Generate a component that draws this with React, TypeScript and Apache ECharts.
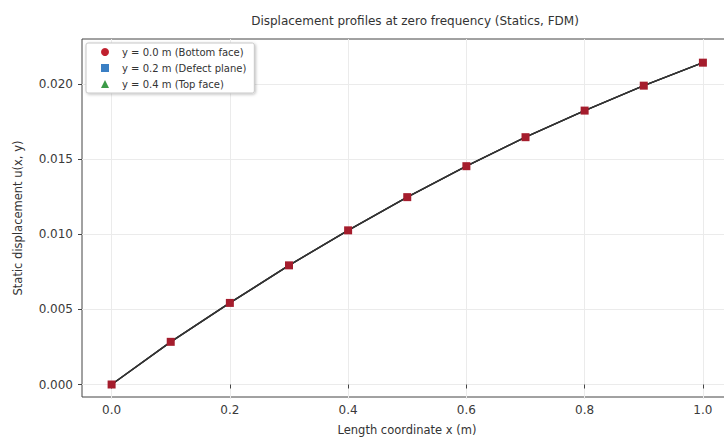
import React, { useEffect, useRef } from "react";
import * as echarts from "echarts";

const xPositions = [0, 0.1, 0.2, 0.3, 0.4, 0.5, 0.6, 0.7, 0.8, 0.9, 1.0];
const uBottom = [0, 0.00284, 0.00543, 0.00793, 0.01026, 0.01247, 0.01453, 0.01646, 0.01823, 0.01989, 0.02142];
const uDefect = [0, 0.00284, 0.00543, 0.00793, 0.01026, 0.01247, 0.01453, 0.01646, 0.01823, 0.01989, 0.02142];
const uTop = [0, 0.00284, 0.00543, 0.00793, 0.01026, 0.01247, 0.01453, 0.01646, 0.01823, 0.01989, 0.02142];
const seriesNames = ["y = 0.0 m (Bottom face)", "y = 0.2 m (Defect plane)", "y = 0.4 m (Top face)"];
const titleText = "Displacement profiles at zero frequency (Statics, FDM)";
const xName = "Length coordinate x (m)";
const yName = "Static displacement u(x, y)";

const FONT = "DejaVu Sans";

export default function App() {
  const ref = useRef<HTMLDivElement>(null);
  useEffect(() => {
    if (!ref.current) return;
    const chart = echarts.init(ref.current, undefined, { renderer: "svg" });
    const pairs = (ys: number[]) => xPositions.map((x, i) => [x, ys[i]]);
    const lineColor = "#333333";
    chart.setOption({
      animation: false,
      backgroundColor: "#ffffff",
      textStyle: { fontFamily: FONT },
      title: {
        text: titleText,
        left: 410,
        textAlign: "center",
        top: 10,
        textStyle: { fontFamily: FONT, fontSize: 12, fontWeight: "normal", color: "#333" },
      },
      legend: {
        orient: "vertical",
        left: 86,
        top: 43,
        padding: [4, 8, 4, 15],
        itemWidth: 8,
        itemHeight: 8,
        itemGap: 6,
        borderColor: "#c8c8c8",
        borderWidth: 1,
        borderRadius: 2,
        backgroundColor: "#ffffff",
        shadowBlur: 3,
        shadowColor: "rgba(0,0,0,0.25)",
        shadowOffsetX: 1,
        shadowOffsetY: 1,
        textStyle: { fontFamily: FONT, fontSize: 10, color: "#333", padding: [0, 0, 0, 8] },
        data: [
          { name: seriesNames[0], icon: "circle", itemStyle: { color: "#c0202e" } },
          { name: seriesNames[1], icon: "rect", itemStyle: { color: "#3a7fc4" } },
          { name: seriesNames[2], icon: "triangle", itemStyle: { color: "#3c9a48" } },
        ],
      },
      grid: [
        { left: 82, top: 39, width: 650, height: 360, show: true, borderColor: "#444", borderWidth: 1, backgroundColor: "transparent", containLabel: false },
        { left: 111.6, top: 39, width: 591.3, height: 360, containLabel: false },
        { left: 82, top: 84, width: 650, height: 300.5, containLabel: false },
      ],
      xAxis: [
        {
          type: "value", gridIndex: 0, min: 0, max: 1,
          name: xName, nameLocation: "middle", nameGap: 27,
          nameTextStyle: { fontFamily: FONT, fontSize: 11.5, color: "#333" },
          axisLine: { show: false }, axisTick: { show: false }, axisLabel: { show: false }, splitLine: { show: false },
        },
        {
          type: "value", gridIndex: 1, min: 0, max: 1, interval: 0.2,
          axisLine: { show: false },
          axisTick: { show: true, inside: false, length: 4, lineStyle: { color: "#444" } },
          axisLabel: { fontFamily: FONT, fontSize: 12, color: "#3a3a3a", margin: 5, formatter: (v: number) => v.toFixed(1) },
          splitLine: { show: true, lineStyle: { color: "#ebebeb", width: 1 } },
        },
        { type: "value", gridIndex: 2, min: 0, max: 1, show: false },
      ],
      yAxis: [
        {
          type: "value", gridIndex: 0, min: 0, max: 1,
          name: yName, nameLocation: "middle", nameGap: 58, nameRotate: 90,
          nameTextStyle: { fontFamily: FONT, fontSize: 11.5, color: "#333" },
          axisLine: { show: false }, axisTick: { show: false }, axisLabel: { show: false }, splitLine: { show: false },
        },
        { type: "value", gridIndex: 1, min: -0.000965, max: 0.022995, show: false },
        {
          type: "value", gridIndex: 2, min: 0, max: 0.02, interval: 0.005,
          axisLine: { show: false },
          axisTick: { show: true, inside: false, length: 4, lineStyle: { color: "#444" } },
          axisLabel: { fontFamily: FONT, fontSize: 12, color: "#3a3a3a", margin: 9, formatter: (v: number) => v.toFixed(3) },
          splitLine: { show: true, lineStyle: { color: "#ebebeb", width: 1 } },
        },
      ],
      series: [
        {
          name: seriesNames[2], type: "line", xAxisIndex: 1, yAxisIndex: 1, data: pairs(uTop),
          symbol: "triangle", symbolSize: 6, itemStyle: { color: "#3c9a48" },
          lineStyle: { color: lineColor, width: 1.4 }, z: 2, clip: false,
        },
        {
          name: seriesNames[1], type: "line", xAxisIndex: 1, yAxisIndex: 1, data: pairs(uDefect),
          symbol: "rect", symbolSize: 6, itemStyle: { color: "#3a7fc4" },
          lineStyle: { color: lineColor, width: 1.4 }, z: 3, clip: false,
        },
        {
          name: seriesNames[0], type: "line", xAxisIndex: 1, yAxisIndex: 1, data: pairs(uBottom),
          symbol: "rect", symbolSize: 8, itemStyle: { color: "#a51d2d" },
          lineStyle: { color: lineColor, width: 1.4 }, z: 4, clip: false,
        },
      ],
    });
    return () => chart.dispose();
  }, []);
  return (
    <div style={{ position: "absolute", left: 0, top: 0, width: 724, height: 441, overflow: "hidden", background: "#fff" }}>
      <div ref={ref} style={{ width: 733, height: 441 }} />
    </div>
  );
}
